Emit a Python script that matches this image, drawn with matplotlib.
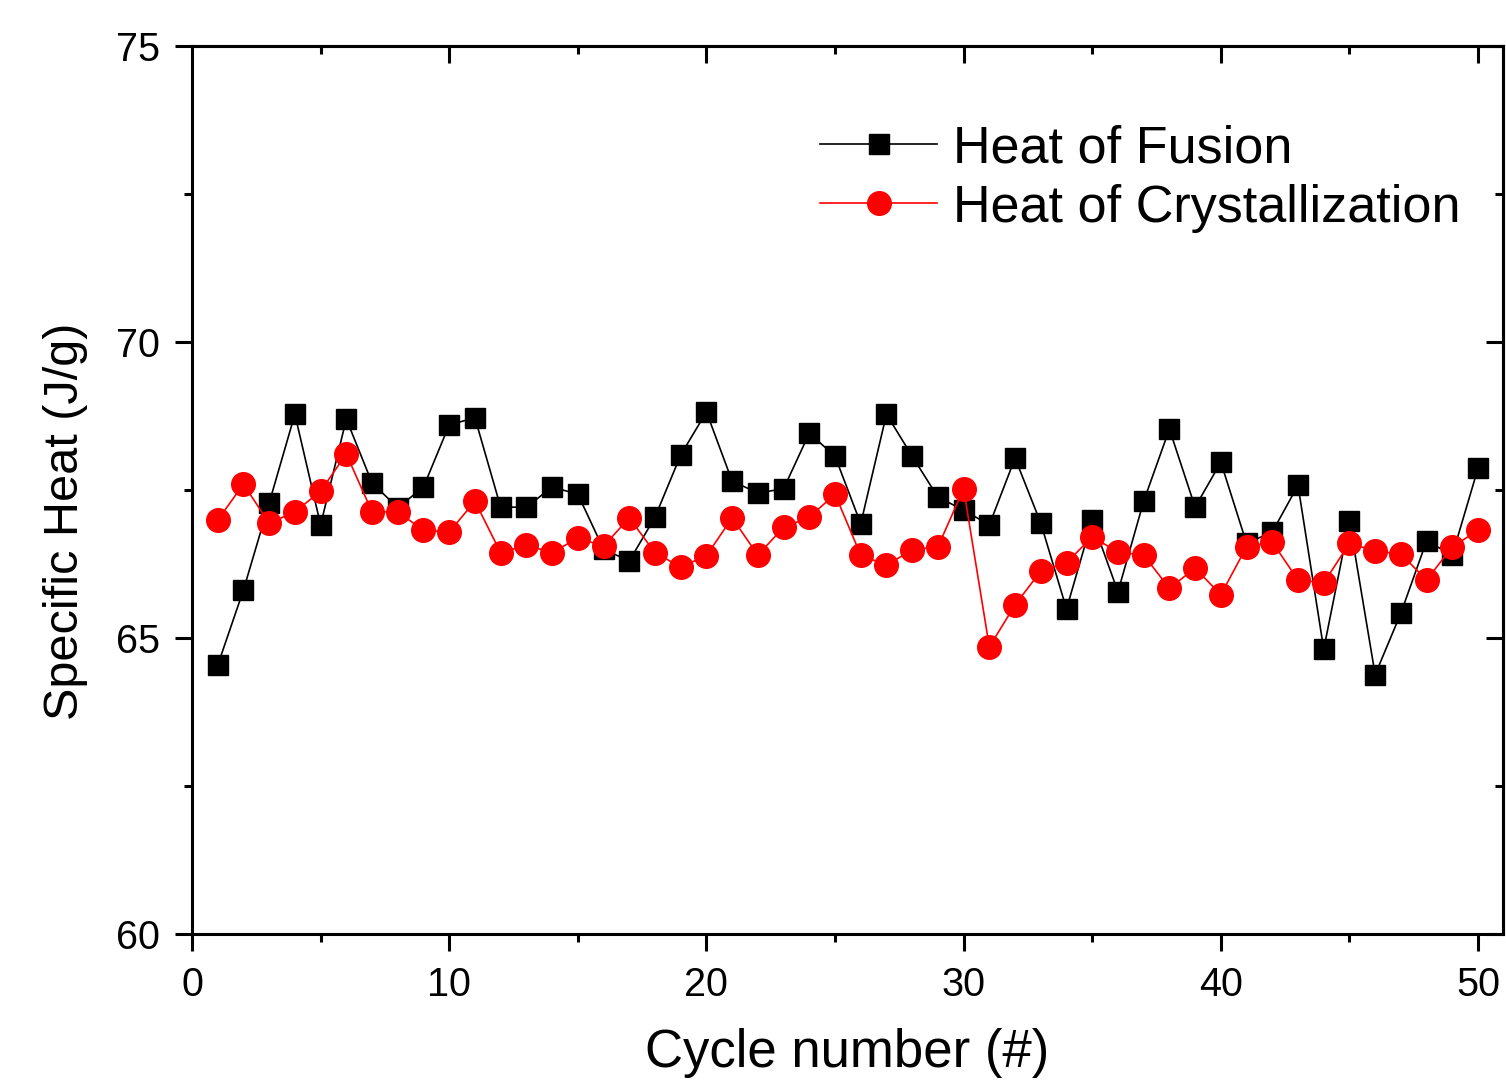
import matplotlib
matplotlib.use('Agg')
import matplotlib.pyplot as plt
from matplotlib.ticker import MultipleLocator

plt.rcParams['font.family'] = ['Liberation Sans', 'DejaVu Sans']

# 循环次数
cycles = list(range(1, 51))

# 熔化热 (J/g)
heat_fusion = [64.54, 65.81, 67.28, 68.78, 66.91, 68.70, 67.62, 67.20, 67.55, 68.60,
               68.72, 67.21, 67.21, 67.55, 67.43, 66.50, 66.30, 67.04, 68.09, 68.82,
               67.65, 67.45, 67.52, 68.46, 68.07, 66.93, 68.78, 68.07, 67.38, 67.16,
               66.91, 68.04, 66.94, 65.49, 66.99, 65.78, 67.31, 68.53, 67.21, 67.97,
               66.60, 66.79, 67.58, 64.81, 66.98, 64.38, 65.42, 66.64, 66.40, 67.87]

# 结晶热 (J/g)
heat_cryst = [66.99, 67.60, 66.94, 67.13, 67.48, 68.11, 67.13, 67.13, 66.82, 66.79,
              67.31, 66.44, 66.57, 66.44, 66.69, 66.55, 67.03, 66.44, 66.20, 66.39,
              67.03, 66.40, 66.87, 67.04, 67.43, 66.40, 66.23, 66.49, 66.54, 67.52,
              64.85, 65.56, 66.13, 66.27, 66.71, 66.45, 66.40, 65.84, 66.18, 65.73,
              66.54, 66.62, 65.98, 65.93, 66.60, 66.47, 66.42, 65.98, 66.54, 66.82]

fig = plt.figure(figsize=(15.06, 10.8), dpi=100)
ax = fig.add_axes([192 / 1506, 1 - 934 / 1080, 1311 / 1506, 888 / 1080])

ax.plot(cycles, heat_fusion, color='black', linewidth=1.2, marker='s',
        markersize=15, label='Heat of Fusion', zorder=3)
ax.plot(cycles, heat_cryst, color='red', linewidth=1.2, marker='o',
        markersize=17, label='Heat of Crystallization', zorder=4)

ax.set_xlim(0, 50.97)
ax.set_ylim(60, 75)
ax.xaxis.set_major_locator(MultipleLocator(10))
ax.xaxis.set_minor_locator(MultipleLocator(5))
ax.yaxis.set_major_locator(MultipleLocator(5))
ax.yaxis.set_minor_locator(MultipleLocator(2.5))

for s in ax.spines.values():
    s.set_linewidth(2.2)

ax.tick_params(axis='both', which='major', direction='out', length=12, width=2.2,
               labelsize=28.5, pad=11)
ax.tick_params(axis='both', which='minor', direction='out', length=6, width=2.2)

# 顶部和右侧的刻度朝内
top = ax.secondary_xaxis('top')
top.set_xticks([10, 20, 30, 40, 50])
top.set_xticks([5, 15, 25, 35, 45], minor=True)
top.tick_params(which='major', direction='in', length=12, width=2.2, labeltop=False)
top.tick_params(which='minor', direction='in', length=6, width=2.2)
top.spines['top'].set_linewidth(2.2)

right = ax.secondary_yaxis('right')
right.set_yticks([60, 65, 70, 75])
right.set_yticks([62.5, 67.5, 72.5], minor=True)
right.tick_params(which='major', direction='in', length=12, width=2.2, labelright=False)
right.tick_params(which='minor', direction='in', length=6, width=2.2)
right.spines['right'].set_linewidth(2.2)

ax.set_xlabel('Cycle number (#)', fontsize=38)
ax.xaxis.set_label_coords(0.5, -0.106, transform=ax.transAxes)
ax.set_ylabel('Specific Heat (J/g)', fontsize=35)
ax.yaxis.set_label_coords(-0.079, 0.465, transform=ax.transAxes)

ax.legend(loc='upper left', bbox_to_anchor=(0.479, 0.912), frameon=False,
          fontsize=37.5, handlelength=2.25, handletextpad=0.3, labelspacing=0.2,
          borderpad=0, borderaxespad=0)

fig.savefig('out.png', dpi=100)
